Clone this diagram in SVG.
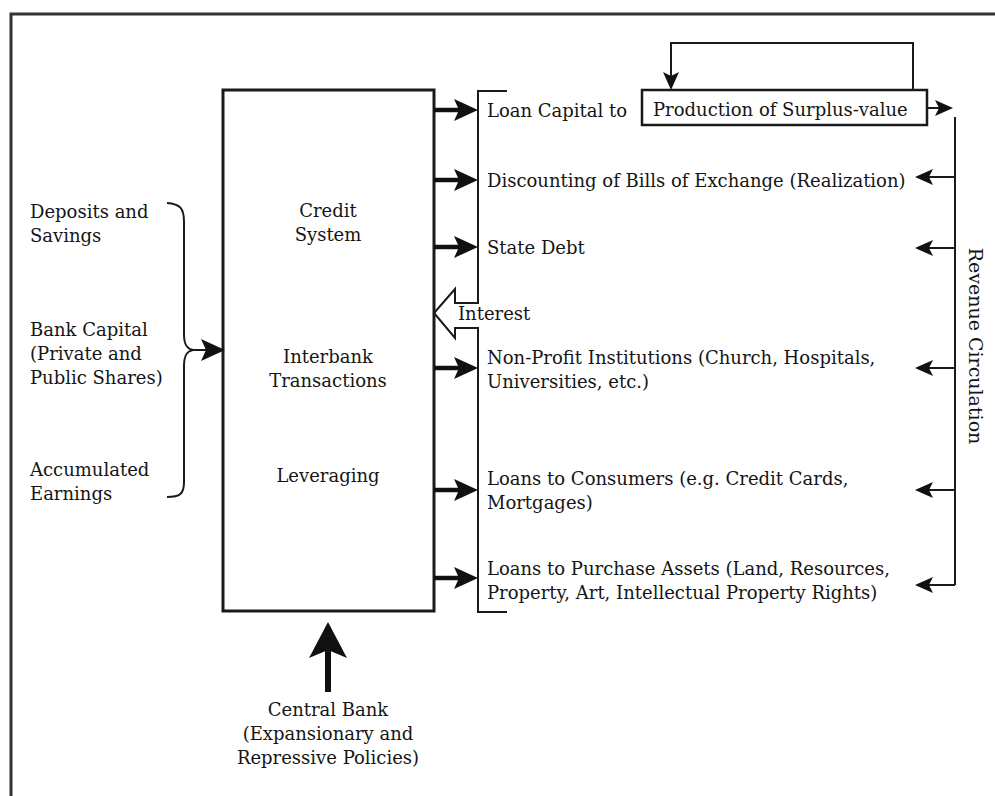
<svg xmlns="http://www.w3.org/2000/svg" width="995" height="796" viewBox="0 0 995 796">
<defs>
<style>
text{font-family:"DejaVu Serif","Liberation Serif",serif;font-size:18px;fill:#151515}
.c{text-anchor:middle}
.ln{fill:none;stroke:#1a1a1a;stroke-width:2}
.thick{fill:none;stroke:#111;stroke-width:4.5}
.box{fill:#fff;stroke:#1a1a1a;stroke-width:3}
</style>
<marker id="ah" markerUnits="userSpaceOnUse" markerWidth="24" markerHeight="22" refX="5" refY="11" orient="auto">
<path d="M0,0 L24,11 L0,22 L5,11 z" fill="#111"/>
</marker>
<marker id="as" markerUnits="userSpaceOnUse" markerWidth="18" markerHeight="16" refX="4" refY="8" orient="auto">
<path d="M0,0 L18,8 L0,16 L4,8 z" fill="#111"/>
</marker>
</defs>
<rect x="0" y="0" width="995" height="796" fill="#fff"/>
<g id="frame">
<path d="M11,796 V14 H995" fill="none" stroke="#333" stroke-width="3"/>
</g>
<g id="credit-system">
<rect class="box" x="223" y="90" width="211" height="521"/>
<text class="c" x="328" y="217">Credit</text>
<text class="c" x="328" y="241">System</text>
<text class="c" x="328" y="363">Interbank</text>
<text class="c" x="328" y="387">Transactions</text>
<text class="c" x="328" y="482">Leveraging</text>
</g>
<g id="sources">
<text x="30" y="218">Deposits and</text>
<text x="30" y="242">Savings</text>
<text x="30" y="336">Bank Capital</text>
<text x="30" y="360">(Private and</text>
<text x="30" y="384">Public Shares)</text>
<text x="30" y="476">Accumulated</text>
<text x="30" y="500">Earnings</text>
</g>
<g id="central-bank">
<text class="c" x="328" y="716">Central Bank</text>
<text class="c" x="328" y="740">(Expansionary and</text>
<text class="c" x="328" y="764">Repressive Policies)</text>
</g>
<g id="loan-capital">
<text x="487" y="117">Loan Capital to</text>
</g>
<g id="production">
<rect x="642" y="90" width="285" height="35" fill="#fff" stroke="#1a1a1a" stroke-width="2.5"/>
<text x="653" y="116">Production of Surplus-value</text>
</g>
<g id="discounting"><text x="487" y="187">Discounting of Bills of Exchange (Realization)</text></g>
<g id="state-debt"><text x="487" y="254">State Debt</text></g>
<g id="interest"><text x="458" y="320">Interest</text></g>
<g id="non-profit">
<text x="487" y="364">Non-Profit Institutions (Church, Hospitals,</text>
<text x="487" y="388">Universities, etc.)</text>
</g>
<g id="consumers">
<text x="487" y="485">Loans to Consumers (e.g. Credit Cards,</text>
<text x="487" y="509">Mortgages)</text>
</g>
<g id="assets">
<text x="487" y="575">Loans to Purchase Assets (Land, Resources,</text>
<text x="487" y="599">Property, Art, Intellectual Property Rights)</text>
</g>
<g id="revenue">
<text class="c" style="font-size:19px" transform="translate(969,346) rotate(90)">Revenue Circulation</text>
</g>
<g id="connectors">
<path class="ln" d="M167,203 C180,204 184,208 184,222 V334 C184,345 187,349 193,350 C187,351 184,355 184,366 V482 C184,494 180,497 167,497"/>
<path class="ln" d="M193,350 H206" marker-end="url(#ah)"/>
<path d="M328,692 V640" stroke="#111" stroke-width="6" fill="none"/>
<path d="M309,658 L328,622 L347,658 L328,650 z" fill="#111"/>
<path class="thick" d="M434,110 H459" marker-end="url(#ah)"/>
<path class="thick" d="M434,180 H459" marker-end="url(#ah)"/>
<path class="thick" d="M434,247 H459" marker-end="url(#ah)"/>
<path class="thick" d="M434,368 H459" marker-end="url(#ah)"/>
<path class="thick" d="M434,490 H459" marker-end="url(#ah)"/>
<path class="thick" d="M434,578 H459" marker-end="url(#ah)"/>
<path class="ln" d="M507,91 H478 V303 H455 V289 L434,313 L455,338 V328 H478 V612 H507"/>
<path class="ln" d="M913,90 V43 H671 V76" marker-end="url(#as)"/>
<path class="ln" d="M927,108 H939" marker-end="url(#as)"/>
<path class="ln" d="M955,117 V585"/>
<path class="ln" d="M955,177 H929" marker-end="url(#as)"/>
<path class="ln" d="M955,248 H929" marker-end="url(#as)"/>
<path class="ln" d="M955,368 H929" marker-end="url(#as)"/>
<path class="ln" d="M955,490 H929" marker-end="url(#as)"/>
<path class="ln" d="M955,585 H929" marker-end="url(#as)"/>
</g>
</svg>
